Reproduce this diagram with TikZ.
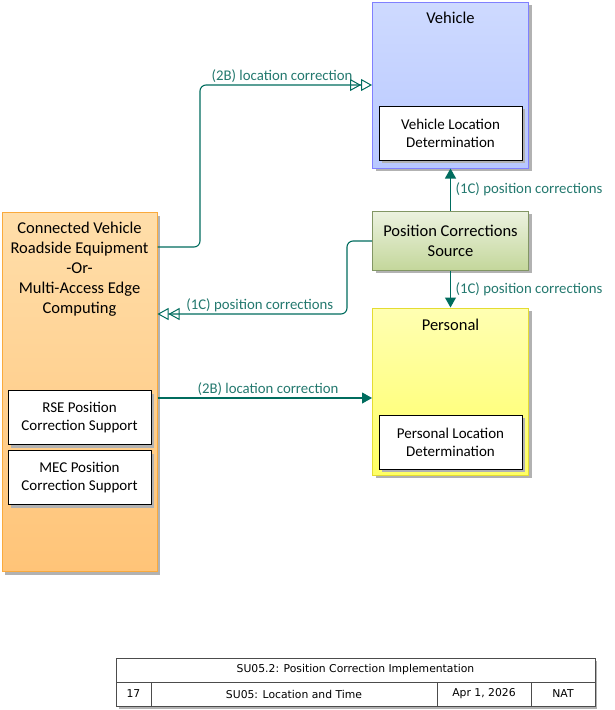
\documentclass[tikz,border=0pt]{standalone}
\usepackage{fontspec}
\setmainfont{Carlito}
\newfontfamily\tblfont{DejaVu Sans}
\usetikzlibrary{arrows.meta,shadows}
\definecolor{flowc}{RGB}{0,108,94}
\definecolor{flowt}{RGB}{35,120,110}
\definecolor{vehB}{RGB}{128,128,255}
\definecolor{vehT}{RGB}{206,218,255}
\definecolor{vehBot}{RGB}{184,200,255}
\definecolor{perB}{RGB}{228,220,50}
\definecolor{perT}{RGB}{255,255,178}
\definecolor{perBot}{RGB}{255,255,100}
\definecolor{rseB}{RGB}{250,170,60}
\definecolor{rseT}{RGB}{255,222,170}
\definecolor{rseBot}{RGB}{255,196,120}
\definecolor{pcsB}{RGB}{130,150,100}
\definecolor{pcsT}{RGB}{236,242,224}
\definecolor{pcsBot}{RGB}{196,215,155}
\tikzset{
  shad/.style={general shadow={fill=black!30, shadow xshift=3pt, shadow yshift=-3pt}},
  bigbox/.style={draw, line width=1pt, shad, inner sep=0pt},
  innerbox/.style={draw=black, fill=white, line width=0.9pt, shad, minimum width=143pt, minimum height=54pt,
     align=center, font=\fontsize{15}{18}\selectfont, inner sep=0pt},
  titletext/.style={font=\fontsize{16.5}{20}\selectfont, align=center, inner sep=0pt},
  flow/.style={draw=flowc, line width=1.1pt, rounded corners=6pt},
  opentips/.style={-{Triangle[open,length=11pt,width=12pt,line width=1pt]Triangle[open,length=11pt,width=12pt,line width=1pt]}},
  solidtip/.style={-{Triangle[length=10pt,width=11pt]}},
  flowlabel/.style={text=flowt, font=\fontsize{14.8}{16}\selectfont, inner sep=1.5pt},
  tbl/.style={draw=black!70, line width=0.8pt},
  tbltext/.style={font=\tblfont\fontsize{10.8}{12}\selectfont, inner sep=0pt},
}
\begin{document}
\begin{tikzpicture}[x=1pt,y=-1pt]
\useasboundingbox (0,0) rectangle (615,710);

% Vehicle
\node[bigbox, draw=vehB, top color=vehT, bottom color=vehBot, minimum width=156pt, minimum height=166pt] (veh) at (450.5,85) {};
\node[titletext] (vehT) at (450.5,18) {Vehicle};
\node[innerbox] (vld) at (450.5,133) {Vehicle Location\\Determination};

% Position Corrections Source
\node[bigbox, draw=pcsB, top color=pcsT, bottom color=pcsBot, minimum width=156pt, minimum height=59pt,
      titletext] (pcs) at (450.5,240.5) {Position Corrections\\Source};

% Personal
\node[bigbox, draw=perB, top color=perT, bottom color=perBot, minimum width=156pt, minimum height=167pt] (per) at (450.5,391.5) {};
\node[titletext] (perT) at (450.5,325) {Personal};
\node[innerbox] (pld) at (450.5,442) {Personal Location\\Determination};

% RSE / MEC
\node[bigbox, draw=rseB, top color=rseT, bottom color=rseBot, minimum width=155pt, minimum height=359pt] (rse) at (79.5,392) {};
\node[titletext, anchor=north] (rseT) at (79.5,222) {Connected Vehicle\\Roadside Equipment\\-Or-\\Multi-Access Edge\\Computing};
\node[innerbox] (rsep) at (79.5,417.5) {RSE Position\\Correction Support};
\node[innerbox] (mecp) at (79.5,477.5) {MEC Position\\Correction Support};

% Flows
\draw[flow, opentips] (rse.east |- 0,247) -- (200,247) -- (200,85) -- (veh.west |- 0,85)
  node[flowlabel, pos=0.477, above] (l2bt) {(2B) location correction};
\draw[flow, opentips] (pcs.west |- 0,241) -- (347,241) -- (347,314) -- (rse.east |- 0,314)
  node[flowlabel, pos=0.46, above] (l1cl) {(1C) position corrections};
\draw[flow, solidtip] (rse.east |- 0,398) -- (per.west |- 0,398)
  node[flowlabel, pos=0.515, above] (l2bb) {(2B) location correction};
\draw[flow, solidtip] (pcs.north) -- (veh.south)
  node[flowlabel, midway, right, xshift=3pt] (l1cu) {(1C) position corrections};
\draw[flow, solidtip] (pcs.south) -- (per.north)
  node[flowlabel, midway, right, xshift=3pt] (l1cd) {(1C) position corrections};

% Title block
\fill[black!30] (119,661) rectangle (597,709);
\node[tbl, fill=white, minimum width=479pt, minimum height=24pt, inner sep=0pt, tbltext] (t1) at (355.5,670) {SU05.2: Position Correction Implementation};
\node[tbl, fill=white, minimum width=35pt, minimum height=24pt, inner sep=0pt, tbltext] (t2) at (133.5,694) {17};
\node[tbl, fill=white, minimum width=286pt, minimum height=24pt, inner sep=0pt, tbltext] (t3) at (294,694) {SU05: Location and Time};
\node[tbl, fill=white, minimum width=94pt, minimum height=24pt, inner sep=0pt, tbltext] (t4) at (484,694) {Apr 1, 2026};
\node[tbl, fill=white, minimum width=64pt, minimum height=24pt, inner sep=0pt, tbltext] (t5) at (563,694) {NAT};
\end{tikzpicture}
\end{document}
